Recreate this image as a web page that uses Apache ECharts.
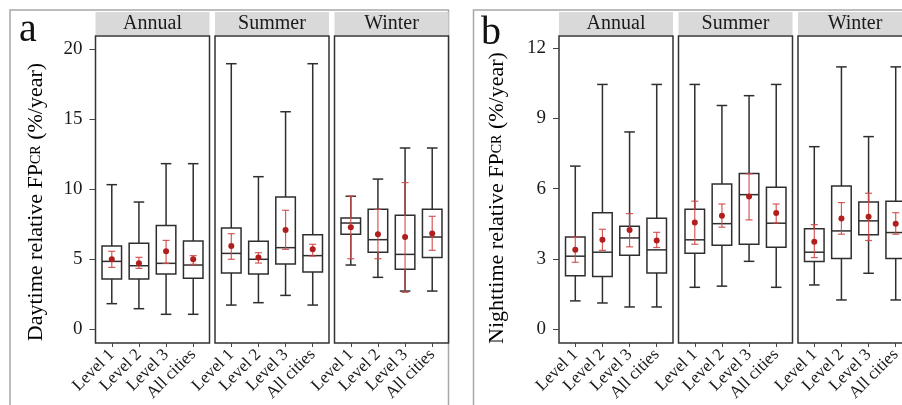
<!DOCTYPE html>
<html>
<head>
<meta charset="utf-8">
<script src="https://cdn.jsdelivr.net/npm/echarts@6/dist/echarts.min.js"></script>
<style>
html,body{margin:0;padding:0;background:#fff;}
#chart{width:902px;height:405px;}
</style>
</head>
<body>
<div id="chart"></div>
<script>
// ---------- data ----------
const seasons = ['Annual', 'Summer', 'Winter'];
const categories = ['Level 1', 'Level 2', 'Level 3', 'All cities'];
const dayTicks = [0, 5, 10, 15, 20];
const nightTicks = [0, 3, 6, 9, 12];

// box: [lower whisker, Q1, median, Q3, upper whisker]
// mean: [mean, error-bar low, error-bar high]
const dayAnnualBox = [[1.81, 3.57, 4.83, 5.93, 10.31], [1.45, 3.57, 4.52, 6.12, 9.07], [1.05, 3.93, 4.69, 7.40, 11.81], [1.05, 3.62, 4.57, 6.29, 11.81]];
const dayAnnualMean = [[4.98, 4.40, 5.55], [4.69, 4.33, 5.12], [5.55, 4.69, 6.33], [4.98, 4.62, 5.24]];
const daySummerBox = [[1.71, 4.00, 5.40, 7.21, 18.95], [1.88, 3.93, 4.98, 6.26, 10.88], [2.40, 4.64, 5.81, 9.43, 15.52], [1.71, 4.07, 5.24, 6.74, 18.95]];
const daySummerMean = [[5.93, 4.98, 6.81], [5.10, 4.71, 5.45], [7.07, 5.69, 8.48], [5.69, 5.21, 6.05]];
const dayWinterBox = [[4.57, 6.76, 7.57, 7.93, 9.48], [3.69, 5.48, 6.38, 8.55, 10.71], [2.71, 4.26, 5.33, 8.12, 12.93], [2.71, 5.10, 6.57, 8.55, 12.93]];
const dayWinterMean = [[7.26, 5.02, 9.50], [6.76, 5.02, 8.55], [6.57, 2.62, 10.46], [6.83, 5.62, 8.05]];

const nightAnnualBox = [[1.20, 2.27, 3.11, 3.93, 6.96], [1.11, 2.24, 3.28, 4.97, 10.45], [0.94, 3.15, 3.89, 4.39, 8.42], [0.94, 2.39, 3.38, 4.73, 10.45]];
const nightAnnualMean = [[3.39, 2.85, 3.93], [3.81, 3.36, 4.26], [4.23, 3.51, 4.93], [3.78, 3.48, 4.13]];
const nightSummerBox = [[1.78, 3.24, 3.81, 5.12, 10.45], [1.83, 3.58, 4.50, 6.19, 9.55], [2.89, 3.62, 5.74, 6.64, 9.97], [1.78, 3.49, 4.52, 6.06, 10.45]];
const nightSummerMean = [[4.55, 3.62, 5.46], [4.84, 4.35, 5.34], [5.66, 4.66, 6.63], [4.96, 4.53, 5.34]];
const nightWinterBox = [[1.88, 2.88, 3.28, 4.28, 7.79], [1.24, 3.01, 4.19, 6.11, 11.20], [2.38, 4.03, 4.62, 5.43, 8.22], [1.24, 3.01, 4.12, 5.46, 11.20]];
const nightWinterMean = [[3.73, 3.05, 4.46], [4.72, 4.05, 5.40], [4.80, 3.78, 5.80], [4.50, 4.05, 4.97]];

// ---------- layout & style ----------
const serif = "'Liberation Serif','Times New Roman',serif";
const PLOT_TOP = 36, PLOT_H = 307;
const panels = [
  { left: 95.5, width: 114, box: dayAnnualBox, mean: dayAnnualMean, y: 'day', season: 0 },
  { left: 215, width: 114, box: daySummerBox, mean: daySummerMean, y: 'day', season: 1 },
  { left: 334.5, width: 114, box: dayWinterBox, mean: dayWinterMean, y: 'day', season: 2 },
  { left: 559, width: 114, box: nightAnnualBox, mean: nightAnnualMean, y: 'night', season: 0 },
  { left: 678.5, width: 114, box: nightSummerBox, mean: nightSummerMean, y: 'night', season: 1 },
  { left: 798, width: 114, box: nightWinterBox, mean: nightWinterMean, y: 'night', season: 2 }
];
const yRanges = { day: { min: -1, max: 20.93, ticks: dayTicks }, night: { min: -0.6, max: 12.52, ticks: nightTicks } };
const catIdx = categories.map((c, i) => i);

function renderBox(params, api) {
  const x = api.value(0);
  const c = k => api.coord([x, api.value(k)]);
  const pLow = c(1), pQ1 = c(2), pMed = c(3), pQ3 = c(4), pHigh = c(5), pMean = c(6), pElo = c(7), pEhi = c(8);
  const cx = pLow[0];
  const bw = api.size([0.72, 0])[0];
  const cw = api.size([0.39, 0])[0];
  const ew = api.size([0.26, 0])[0];
  const ls = { stroke: '#2e2e2e', lineWidth: 1.5, fill: null };
  const es = { stroke: '#d04848', lineWidth: 1.2, fill: null, opacity: 0.9 };
  return {
    type: 'group',
    children: [
      { type: 'line', shape: { x1: cx, y1: pQ3[1], x2: cx, y2: pHigh[1] }, style: ls },
      { type: 'line', shape: { x1: cx, y1: pQ1[1], x2: cx, y2: pLow[1] }, style: ls },
      { type: 'line', shape: { x1: cx - cw / 2, y1: pHigh[1], x2: cx + cw / 2, y2: pHigh[1] }, style: ls },
      { type: 'line', shape: { x1: cx - cw / 2, y1: pLow[1], x2: cx + cw / 2, y2: pLow[1] }, style: ls },
      { type: 'rect', shape: { x: cx - bw / 2, y: pQ3[1], width: bw, height: pQ1[1] - pQ3[1] }, style: { stroke: '#2e2e2e', lineWidth: 1.5, fill: '#fff' } },
      { type: 'line', shape: { x1: cx - bw / 2, y1: pMed[1], x2: cx + bw / 2, y2: pMed[1] }, style: ls },
      { type: 'line', shape: { x1: cx, y1: pElo[1], x2: cx, y2: pEhi[1] }, style: es },
      { type: 'line', shape: { x1: cx - ew / 2, y1: pElo[1], x2: cx + ew / 2, y2: pElo[1] }, style: es },
      { type: 'line', shape: { x1: cx - ew / 2, y1: pEhi[1], x2: cx + ew / 2, y2: pEhi[1] }, style: es },
      { type: 'circle', shape: { cx: cx, cy: pMean[1], r: 3 }, style: { fill: '#b01e1e' } }
    ]
  };
}

const grid = [], xAxis = [], yAxis = [], series = [], graphic = [];

// outer frames
graphic.push({ type: 'rect', silent: true, z: -1, shape: { x: 10, y: 10, width: 438.5, height: 420 }, style: { fill: null, stroke: '#a8a8a8', lineWidth: 1.5 } });
graphic.push({ type: 'rect', silent: true, z: -1, shape: { x: 473.5, y: 10, width: 500, height: 420 }, style: { fill: null, stroke: '#a8a8a8', lineWidth: 1.5 } });

panels.forEach((p, gi) => {
  const yr = yRanges[p.y];
  const first = p.season === 0;
  grid.push({ left: p.left, top: PLOT_TOP, width: p.width, height: PLOT_H, show: true, borderColor: '#333', borderWidth: 1.5, backgroundColor: '#fff', containLabel: false, outerBoundsMode: 'none' });
  xAxis.push({
    type: 'value', gridIndex: gi, min: -0.6, max: 3.6,
    axisLine: { show: false, onZero: false }, splitLine: { show: false },
    axisTick: { show: true, customValues: catIdx, length: 4, lineStyle: { color: '#444' } },
    axisLabel: { customValues: catIdx, formatter: v => categories[Math.round(v)], rotate: 45, margin: 9, fontSize: 17, fontFamily: serif, color: '#1a1a1a' }
  });
  yAxis.push({
    type: 'value', gridIndex: gi, min: yr.min, max: yr.max,
    axisLine: { show: false, onZero: false }, splitLine: { show: false },
    axisTick: { show: first, customValues: yr.ticks, length: 6, lineStyle: { color: '#444' } },
    axisLabel: { show: first, customValues: yr.ticks, margin: 13, fontSize: 19, fontFamily: serif, color: '#1a1a1a' }
  });
  series.push({
    type: 'custom', xAxisIndex: gi, yAxisIndex: gi, clip: false,
    renderItem: renderBox,
    encode: { x: 0, y: [1, 2, 3, 4, 5] },
    data: p.box.map((b, i) => [i].concat(b, p.mean[i]))
  });
  // strip header
  graphic.push({ type: 'rect', silent: true, shape: { x: p.left, y: 12, width: p.width, height: 23 }, style: { fill: '#d9d9d9' } });
  graphic.push({ type: 'text', silent: true, x: p.left + p.width / 2, y: 24, style: { text: seasons[p.season], font: '20px ' + serif, fill: '#1a1a1a', align: 'center', verticalAlign: 'middle' } });
});

// panel letters
graphic.push({ type: 'text', silent: true, x: 19, y: 30, style: { text: 'a', font: '40px ' + serif, fill: '#111', align: 'left', verticalAlign: 'middle' } });
graphic.push({ type: 'text', silent: true, x: 481, y: 33, style: { text: 'b', font: '40px ' + serif, fill: '#111', align: 'left', verticalAlign: 'middle' } });

// y-axis titles
const richT = { a: { fontSize: 22, fontFamily: serif, color: '#111' }, b: { fontSize: 14, fontFamily: serif, color: '#111' } };
graphic.push({ type: 'text', silent: true, x: 36, y: 202, rotation: Math.PI / 2, style: { text: '{a|Daytime relative FP}{b|CR}{a| (%/year)}', rich: richT, align: 'center', verticalAlign: 'middle' } });
graphic.push({ type: 'text', silent: true, x: 497, y: 198, rotation: Math.PI / 2, style: { text: '{a|Nighttime relative FP}{b|CR}{a| (%/year)}', rich: richT, align: 'center', verticalAlign: 'middle' } });

const chart = echarts.init(document.getElementById('chart'), null, { renderer: 'canvas' });
chart.setOption({
  animation: false,
  backgroundColor: '#fff',
  grid, xAxis, yAxis, series, graphic
});
</script>
</body>
</html>
